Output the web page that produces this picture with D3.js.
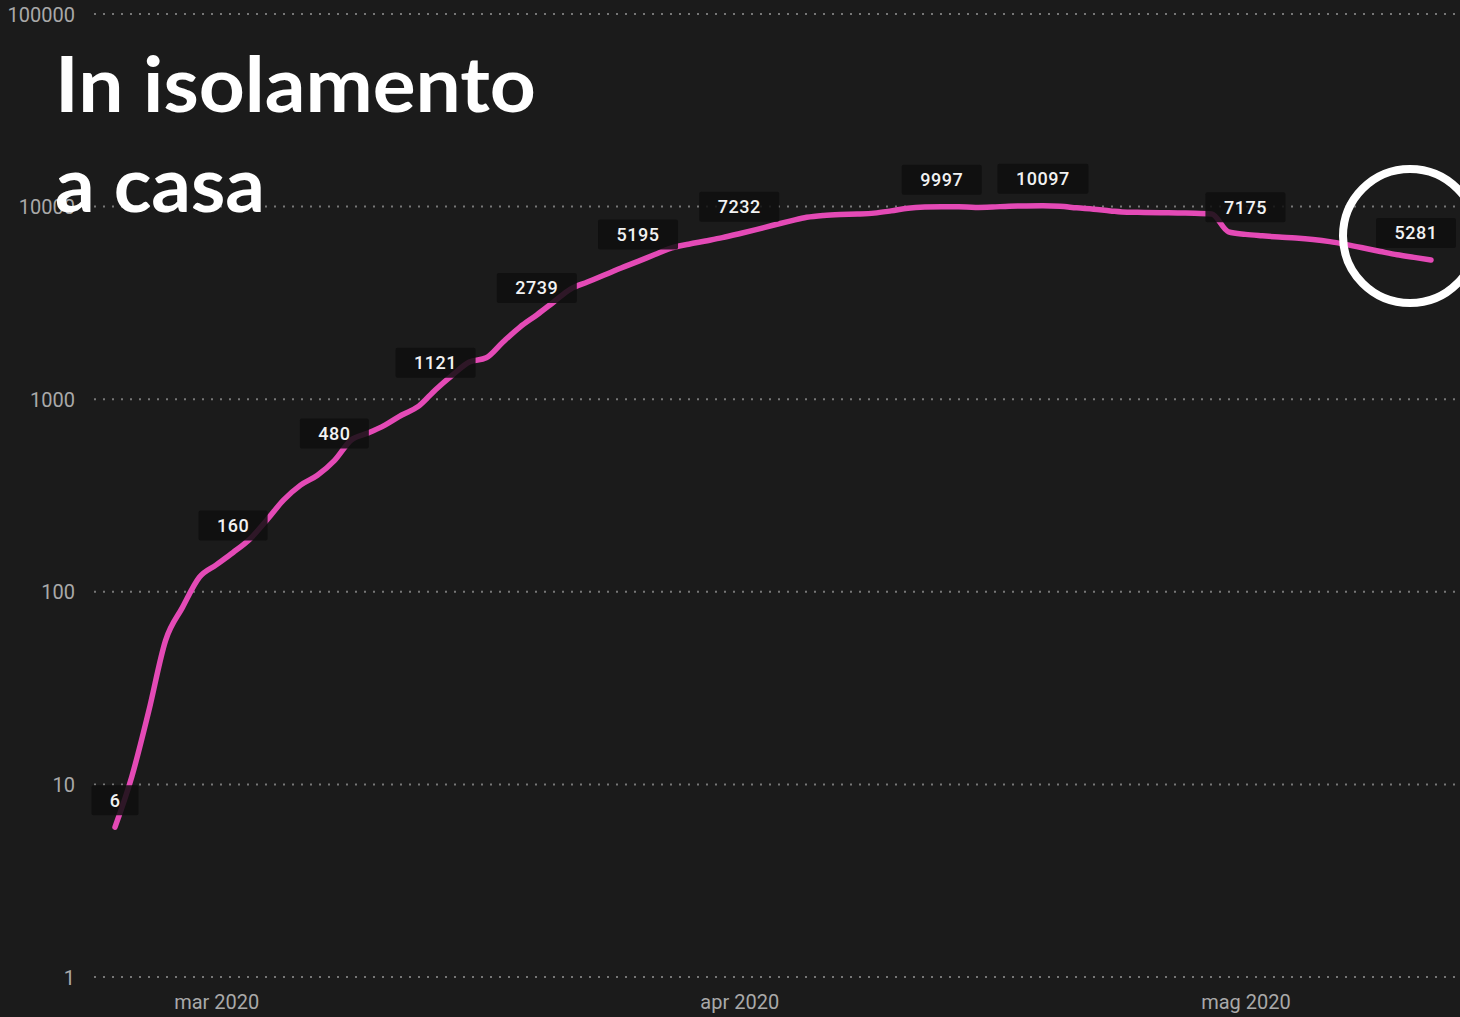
<!DOCTYPE html>
<html>
<head>
<meta charset="utf-8">
<script src="https://cdn.jsdelivr.net/npm/d3@7"></script>
<style>
  html, body { margin: 0; padding: 0; background: #1b1b1b; }
  svg { display: block; }
</style>
</head>
<body>
<svg id="chart" width="1460" height="1017"></svg>
<script>
// ---------- DATA ----------
const dates = [
  "2020-02-24","2020-02-25","2020-02-26","2020-02-27","2020-02-28","2020-02-29",
  "2020-03-01","2020-03-02","2020-03-03","2020-03-04","2020-03-05","2020-03-06","2020-03-07",
  "2020-03-08","2020-03-09","2020-03-10","2020-03-11","2020-03-12","2020-03-13","2020-03-14",
  "2020-03-15","2020-03-16","2020-03-17","2020-03-18","2020-03-19","2020-03-20","2020-03-21",
  "2020-03-22","2020-03-23","2020-03-24","2020-03-25","2020-03-26","2020-03-27","2020-03-28",
  "2020-03-29","2020-03-30","2020-03-31","2020-04-01","2020-04-02","2020-04-03","2020-04-04",
  "2020-04-05","2020-04-06","2020-04-07","2020-04-08","2020-04-09","2020-04-10","2020-04-11",
  "2020-04-12","2020-04-13","2020-04-14","2020-04-15","2020-04-16","2020-04-17","2020-04-18",
  "2020-04-19","2020-04-20","2020-04-21","2020-04-22","2020-04-23","2020-04-24","2020-04-25",
  "2020-04-26","2020-04-27","2020-04-28","2020-04-29","2020-04-30","2020-05-01","2020-05-02",
  "2020-05-03","2020-05-04","2020-05-05","2020-05-06","2020-05-07","2020-05-08","2020-05-09",
  "2020-05-10","2020-05-11","2020-05-12"
];
const isolamento = [
  6, 11, 24, 56, 83, 119,
  138, 160, 188, 236, 300, 358, 403,
  480, 614, 667, 734, 828, 920, 1121,
  1335, 1560, 1640, 1983, 2370, 2739, 3198,
  3732, 4058, 4412, 4800, 5195, 5640, 6100,
  6380, 6630, 6900, 7232, 7600, 8000, 8400,
  8800, 9000, 9100, 9150, 9250, 9500, 9800,
  9950, 9997, 9980, 9900, 9950, 10050, 10080,
  10097, 10050, 9850, 9700, 9500, 9350, 9330,
  9300, 9260, 9240, 9150, 7400, 7175, 7050,
  6950, 6870, 6750, 6580, 6350, 6100, 5850,
  5620, 5450, 5281
];
const labelledDates = ["2020-02-24","2020-03-02","2020-03-08","2020-03-14","2020-03-20",
  "2020-03-26","2020-04-01","2020-04-13","2020-04-19","2020-05-01","2020-05-12"];
const yTicks = [1, 10, 100, 1000, 10000, 100000];
const titleLines = ["In isolamento", "a casa"];
const itMonths = ["gen","feb","mar","apr","mag","giu","lug","ago","set","ott","nov","dic"];

// ---------- SETUP ----------
const W = 1460, H = 1017;
const svg = d3.select("#chart");
const parse = d3.timeParse("%Y-%m-%d");
const data = dates.map((d, i) => ({ date: parse(d), value: isolamento[i] }));

const x = d3.scaleTime()
  .domain(d3.extent(data, d => d.date))
  .range([115, 1431]);
const y = d3.scaleLog()
  .domain([1, 100000])
  .range([977, 14]);

svg.append("rect").attr("width", W).attr("height", H).attr("fill", "#1b1b1b");

// ---------- GRID + Y AXIS ----------
const yAxis = d3.axisLeft(y)
  .tickValues(yTicks)
  .tickFormat(d3.format("d"))
  .tickSize(0)
  .tickPadding(0);
const gy = svg.append("g").attr("transform", "translate(75,0)").call(yAxis);
gy.select(".domain").remove();
gy.selectAll("text")
  .attr("fill", "#a9a9a9")
  .attr("font-family", "Roboto, 'DejaVu Sans', sans-serif")
  .attr("font-size", 20)
  .attr("dy", "0.35em");

svg.append("g").selectAll("line")
  .data(yTicks)
  .join("line")
  .attr("x1", 94).attr("x2", W)
  .attr("y1", d => y(d)).attr("y2", d => y(d))
  .attr("stroke", "#777777")
  .attr("stroke-width", 2)
  .attr("stroke-dasharray", "2 7");

// ---------- X AXIS ----------
const monthFmt = d => itMonths[d.getMonth()] + " " + d.getFullYear();
const xAxis = d3.axisBottom(x)
  .tickValues(d3.timeMonth.range(d3.timeMonth.ceil(x.domain()[0]), x.domain()[1]))
  .tickFormat(monthFmt)
  .tickSize(0)
  .tickPadding(0);
const gx = svg.append("g").attr("transform", "translate(0,994)").call(xAxis);
gx.select(".domain").remove();
gx.selectAll("text")
  .attr("fill", "#a9a9a9")
  .attr("font-family", "Roboto, 'DejaVu Sans', sans-serif")
  .attr("font-size", 20)
  .attr("dy", "0.75em");

// ---------- LINE ----------
const line = d3.line()
  .x(d => x(d.date))
  .y(d => y(d.value))
  .curve(d3.curveMonotoneX);

svg.append("path")
  .datum(data)
  .attr("fill", "none")
  .attr("stroke", "#e44ab6")
  .attr("stroke-width", 5.5)
  .attr("stroke-linejoin", "round")
  .attr("stroke-linecap", "round")
  .attr("d", line);

// ---------- VALUE LABELS ----------
const labelled = data.filter(d => labelledDates.includes(d3.timeFormat("%Y-%m-%d")(d.date)));
const lg = svg.append("g");
labelled.forEach(d => {
  const txt = d3.format("d")(d.value);
  const w = txt.length * 11 + 36;
  let cx = x(d.date);
  cx = Math.min(cx, 1456 - w / 2);
  const cy = y(d.value) - 27;
  const g = lg.append("g");
  g.append("rect")
    .attr("x", cx - w / 2).attr("y", cy - 15)
    .attr("width", w).attr("height", 30)
    .attr("rx", 2)
    .attr("fill", "#0e0e0e").attr("fill-opacity", 0.85);
  g.append("text")
    .attr("x", cx).attr("y", cy)
    .attr("dy", "0.36em")
    .attr("text-anchor", "middle")
    .attr("fill", "#f2f2f2")
    .attr("font-family", "Roboto, 'DejaVu Sans', sans-serif")
    .attr("font-weight", 500)
    .attr("font-size", 18)
    .attr("letter-spacing", 0.5)
    .text(txt);
});

// ---------- ANNOTATION CIRCLE (around last point) ----------
const last = data[data.length - 1];
svg.append("circle")
  .attr("cx", x(last.date) - 21)
  .attr("cy", y(last.value) - 24)
  .attr("r", 67)
  .attr("fill", "none")
  .attr("stroke", "#ffffff")
  .attr("stroke-width", 8);

// ---------- TITLE ----------
const title = svg.append("text")
  .attr("fill", "#ffffff")
  .attr("font-family", "Lato, 'Open Sans', sans-serif")
  .attr("font-weight", 700)
  .attr("font-size", 76);
title.append("tspan").attr("x", 55).attr("y", 112).attr("textLength", 481).attr("lengthAdjust", "spacingAndGlyphs").text(titleLines[0]);
title.append("tspan").attr("x", 55).attr("y", 212).attr("textLength", 210).attr("lengthAdjust", "spacingAndGlyphs").text(titleLines[1]);
</script>
</body>
</html>
